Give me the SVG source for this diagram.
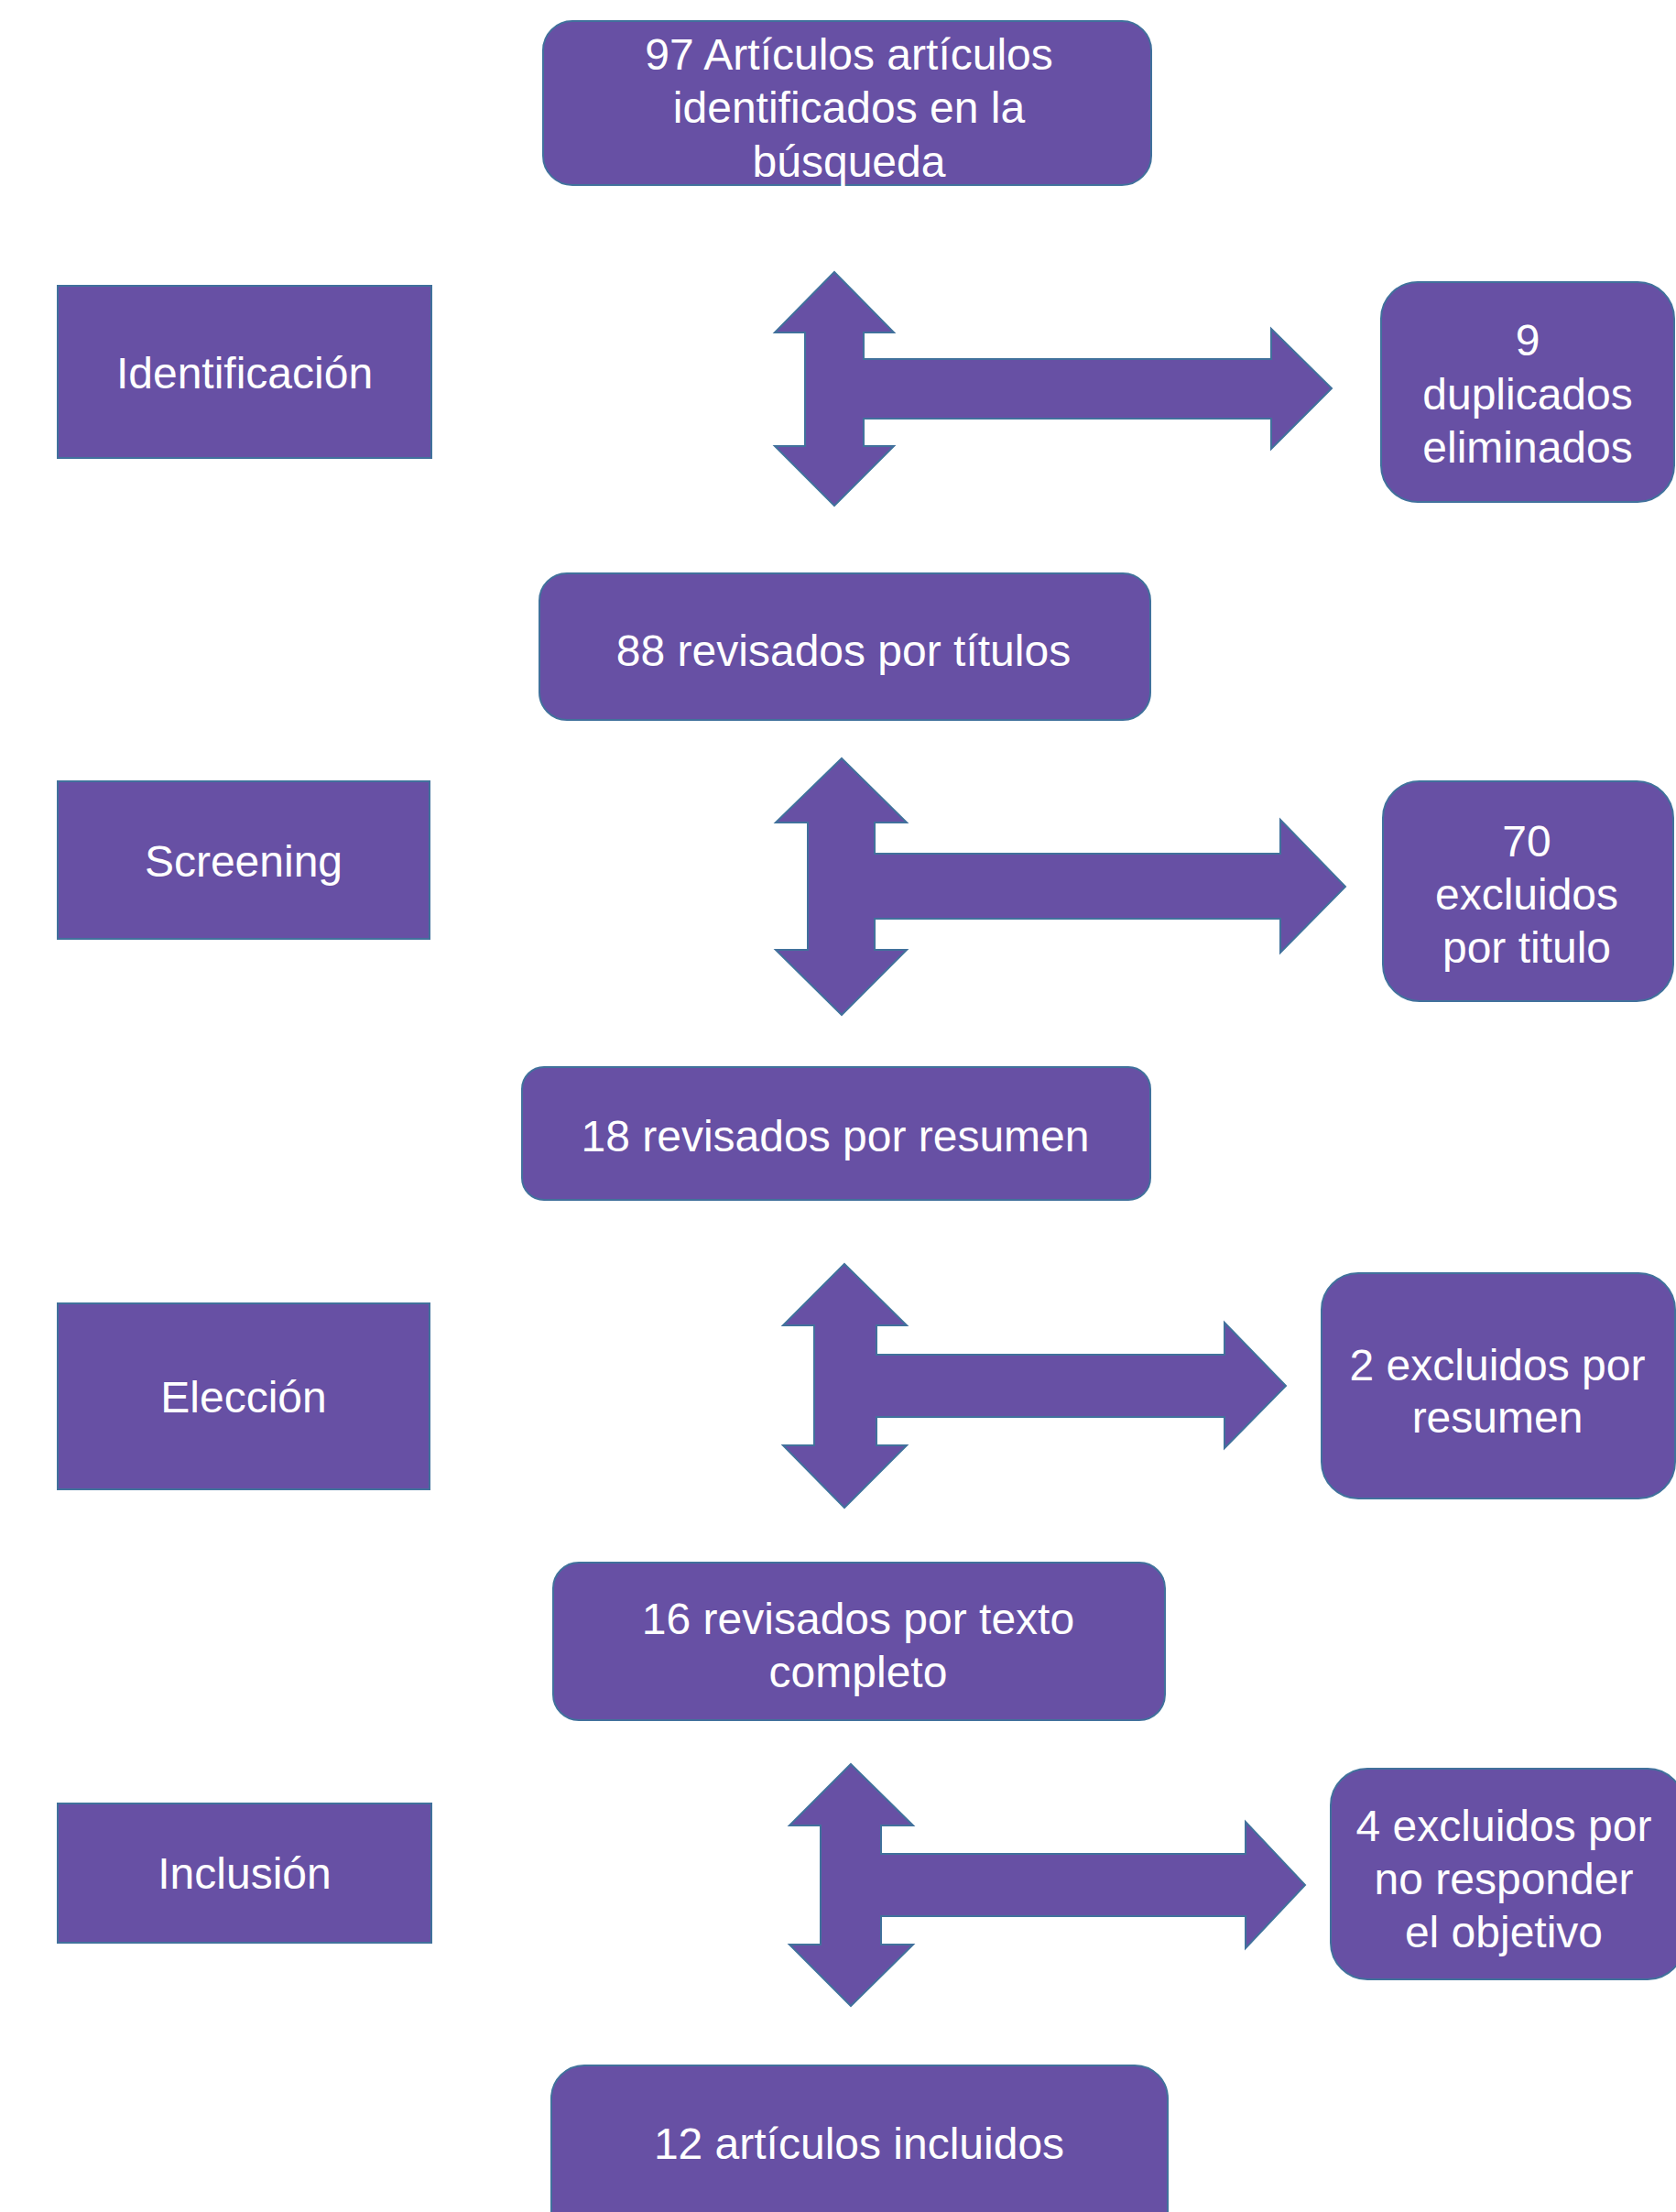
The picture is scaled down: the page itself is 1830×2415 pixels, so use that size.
<svg xmlns="http://www.w3.org/2000/svg" width="1830" height="2415" viewBox="0 0 1830 2415">
<style>
.box{fill:#6750a4;stroke:#41719c;stroke-width:2}
.arr{fill:#6750a4;stroke:#41719c;stroke-width:2;stroke-linejoin:miter}
text{font-family:"Liberation Sans",Arial,sans-serif;font-size:48px;fill:#ffffff;text-anchor:middle}
</style>
<rect width="1830" height="2415" fill="#ffffff"/>
<g id="n-top"><rect class="box" x="593" y="23" width="664" height="179" rx="32"/>
<text x="927" y="76">97 Artículos artículos</text><text x="927" y="134">identificados en la</text><text x="927" y="193">búsqueda</text></g>
<g id="n-identificacion"><rect class="box" x="63" y="312" width="408" height="188"/><text x="267" y="424">Identificación</text></g>
<g id="n-duplicados"><rect class="box" x="1508" y="308" width="320" height="240" rx="40"/>
<text x="1668" y="388">9</text><text x="1668" y="447">duplicados</text><text x="1668" y="505">eliminados</text></g>
<g id="n-88"><rect class="box" x="589" y="626" width="667" height="160" rx="30"/><text x="921" y="727">88 revisados por títulos</text></g>
<g id="n-screening"><rect class="box" x="63" y="853" width="406" height="172"/><text x="266" y="957">Screening</text></g>
<g id="n-70"><rect class="box" x="1510" y="853" width="317" height="240" rx="40"/>
<text x="1667" y="935">70</text><text x="1667" y="993">excluidos</text><text x="1667" y="1051">por titulo</text></g>
<g id="n-18"><rect class="box" x="570" y="1165" width="686" height="145" rx="24"/><text x="912" y="1257">18 revisados por resumen</text></g>
<g id="n-eleccion"><rect class="box" x="63" y="1423" width="406" height="203"/><text x="266" y="1542">Elección</text></g>
<g id="n-2"><rect class="box" x="1443" y="1390" width="386" height="246" rx="40"/>
<text x="1635" y="1507">2 excluidos por</text><text x="1635" y="1564">resumen</text></g>
<g id="n-16"><rect class="box" x="604" y="1706" width="668" height="172" rx="28"/>
<text x="937" y="1784">16 revisados por texto</text><text x="937" y="1842">completo</text></g>
<g id="n-inclusion"><rect class="box" x="63" y="1969" width="408" height="152"/><text x="267" y="2062">Inclusión</text></g>
<g id="n-4"><rect class="box" x="1453" y="1931" width="386" height="230" rx="40"/>
<text x="1642" y="2010">4 excluidos por</text><text x="1642" y="2068">no responder</text><text x="1642" y="2126">el objetivo</text></g>
<g id="n-12"><rect class="box" x="602" y="2255" width="673" height="200" rx="36"/><text x="938" y="2357">12 artículos incluidos</text></g>
<g id="connectors">
<polygon class="arr" points="911,297 976,363 943,363 943,392 1388,392 1388,359 1454,424 1388,490 1388,457 943,457 943,487 976,487 911,552 846,487 879,487 879,363 846,363"/>
<polygon class="arr" points="919,828 990,898 955,898 955,932 1398,932 1398,895 1469,968 1398,1040 1398,1003 955,1003 955,1037 990,1037 919,1108 847,1037 882,1037 882,898 847,898"/>
<polygon class="arr" points="922,1380 990,1447 957,1447 957,1479 1337,1479 1337,1444 1404,1513 1337,1581 1337,1547 957,1547 957,1578 990,1578 922,1646 855,1578 889,1578 889,1447 855,1447"/>
<polygon class="arr" points="929,1926 997,1993 962,1993 962,2024 1360,2024 1360,1989 1425,2058 1360,2127 1360,2092 962,2092 962,2123 997,2123 929,2190 862,2123 896,2123 896,1993 862,1993"/>
</g>
</svg>
